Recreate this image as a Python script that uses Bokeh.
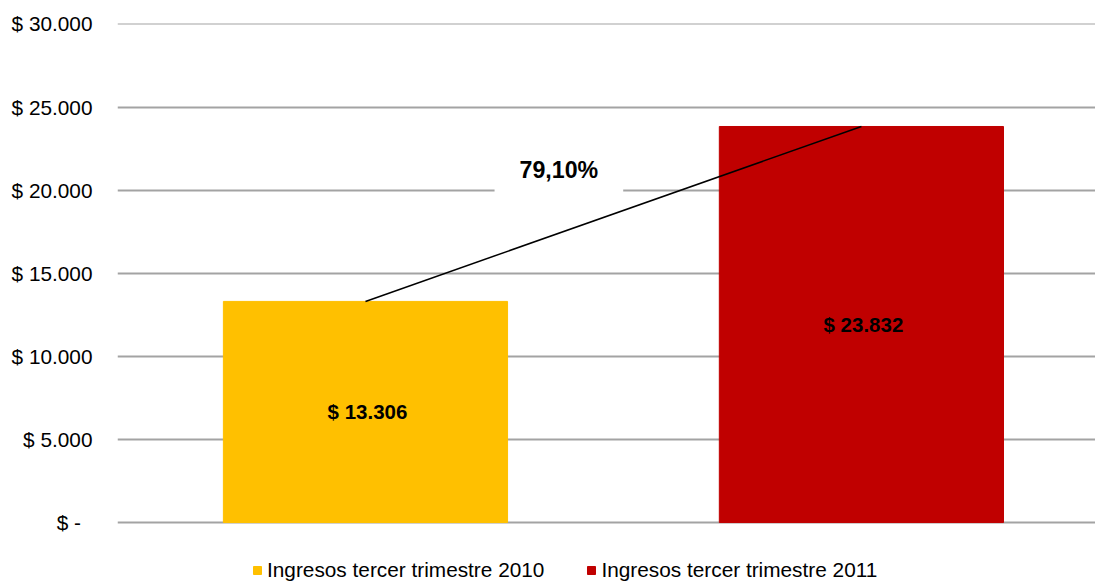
from bokeh.plotting import figure
from bokeh.models import (ColumnDataSource, FixedTicker, Label, LabelSet, Legend,
                          LegendItem, Range1d)
from bokeh.core.properties import value
from bokeh.embed import file_html
from bokeh.resources import INLINE

# ---- data ----
series = ["Ingresos tercer trimestre 2010", "Ingresos tercer trimestre 2011"]
values = [13306, 23832]
value_labels = ["$ 13.306", "$ 23.832"]
colors = ["#FFC000", "#C00000"]
growth_label = "79,10%"
y_ticks = [0, 5000, 10000, 15000, 20000, 25000, 30000]
y_tick_labels = ["$ -\u00a0\u00a0", "$ 5.000", "$ 10.000", "$ 15.000",
                 "$ 20.000", "$ 25.000", "$ 30.000"]

xpos = list(range(len(values)))
src = ColumnDataSource(dict(
    x=xpos, top=values, mid=[v / 2 for v in values],
    color=colors, label=value_labels, name=series))

FONT = "Liberation Sans"

# frame extends below zero to host the legend area
p = figure(width=1095, height=581, output_backend="svg", toolbar_location=None,
           x_range=Range1d(-0.5, 1.472), y_range=Range1d(-3548, 30030),
           min_border_left=117, min_border_right=0, min_border_top=23,
           min_border_bottom=0)
p.outline_line_color = None
p.xaxis.visible = False
p.xgrid.visible = False

p.yaxis.ticker = FixedTicker(ticks=y_ticks)
p.yaxis.major_label_overrides = {t: l for t, l in zip(y_ticks, y_tick_labels)}
p.yaxis.axis_line_color = None
p.yaxis.major_tick_line_color = None
p.yaxis.minor_tick_line_color = None
p.yaxis.major_tick_out = 0
p.yaxis.major_tick_in = 0
p.yaxis.major_label_text_font = FONT
p.yaxis.major_label_text_font_size = "20.8px"
p.yaxis.major_label_text_color = "#000000"
p.yaxis.major_label_standoff = 25

p.ygrid.ticker = FixedTicker(ticks=y_ticks)
p.ygrid.grid_line_color = "#a3a3a3"
p.ygrid.grid_line_width = 2

bars = p.vbar(x="x", top="top", bottom=0, width=0.573, color="color", source=src)

p.line(x=xpos, y=values, line_color="#000000", line_width=1.5)

p.add_layout(LabelSet(x="x", y="mid", text="label", source=src,
                      x_offset=2,
                      text_align="center", text_baseline="middle",
                      text_font=value(FONT), text_font_size=value("20.5px"),
                      text_font_style="bold", text_color="#000000"))

p.add_layout(Label(x=0.39, y=21200, text=growth_label,
                   text_align="center", text_baseline="middle",
                   text_font=FONT, text_font_size="23.2px", text_font_style="bold",
                   text_color="#000000", background_fill_color="#ffffff",
                   padding=(25, 10)))

items = [LegendItem(label=series[i], renderers=[bars], index=i) for i in range(len(series))]
legend = Legend(items=items, orientation="horizontal", location=(135, -1),
                padding=0, margin=0, spacing=42, glyph_width=10, glyph_height=10,
                label_standoff=5, label_text_font=FONT, label_height=21,
                label_text_font_size="20.8px", label_text_color="#000000",
                border_line_color=None, background_fill_alpha=0)
p.add_layout(legend, "center")

open("out.html", "w").write(file_html(p, INLINE))
